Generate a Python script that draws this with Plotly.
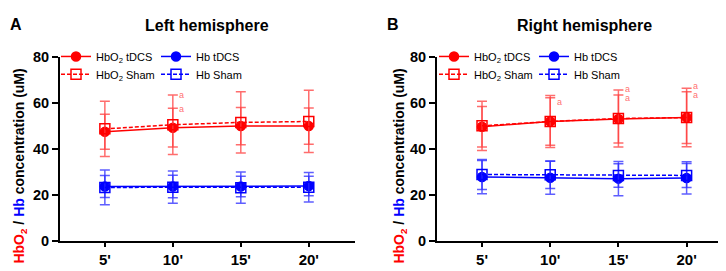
import plotly.graph_objects as go

categories = ["5'", "10'", "15'", "20'"]
xpos = [1, 2, 3, 4]

# Left hemisphere
L_hbo2_tdcs = [47.5, 49.3, 50.0, 50.0]
L_hbo2_tdcs_sd = [7.6, 8.4, 8.1, 7.9]
L_hbo2_sham = [48.8, 50.6, 51.6, 52.0]
L_hbo2_sham_sd = [12.0, 12.9, 13.3, 13.5]
L_hb_tdcs = [23.8, 23.8, 23.8, 24.0]
L_hb_tdcs_sd = [4.8, 4.9, 4.4, 4.2]
L_hb_sham = [23.4, 23.5, 23.3, 23.5]
L_hb_sham_sd = [7.5, 7.0, 6.8, 6.4]

# Right hemisphere
R_hbo2_tdcs = [49.7, 52.0, 53.1, 53.7]
R_hbo2_tdcs_sd = [8.8, 10.3, 10.4, 11.2]
R_hbo2_sham = [50.1, 52.0, 53.3, 53.7]
R_hbo2_sham_sd = [10.7, 11.3, 12.4, 12.7]
R_hb_tdcs = [27.9, 27.6, 27.2, 27.5]
R_hb_tdcs_sd = [7.2, 7.2, 7.4, 7.0]
R_hb_sham = [29.0, 28.9, 28.6, 28.6]
R_hb_sham_sd = [6.5, 6.0, 5.1, 5.2]

# significance marks "a": (category index, y value)
L_sig_x = [2, 2]
L_sig_y = [63.3, 57.4]
R_sig_x = [2, 3, 3, 4, 4]
R_sig_y = [60.6, 66.0, 62.0, 67.4, 63.6]

titles = ["Left hemisphere", "Right hemisphere"]
panel_letters = ["A", "B"]

RED = "#ff0000"
RED_ERR = "rgba(255,60,60,0.75)"
BLUE = "#0000ff"
BLUE_ERR = "rgba(40,40,255,0.75)"
FONT = "Arial, Liberation Sans, sans-serif"

fig = go.Figure()

def add_panel(xa, ya, data, legs):
    (ht, hts, hs, hss, bt, bts, bs, bss) = data
    specs = [
        ("HbO<sub>2</sub> tDCS", ht, hts, RED, RED_ERR, "circle", "solid", legs[0]),
        ("Hb tDCS", bt, bts, BLUE, BLUE_ERR, "circle", "solid", legs[0]),
        ("HbO<sub>2</sub> Sham", hs, hss, RED, RED_ERR, "square-open", "dash", legs[1]),
        ("Hb Sham", bs, bss, BLUE, BLUE_ERR, "square-open", "dash", legs[1]),
    ]
    for name, y, sd, col, ecol, sym, dash, leg in specs:
        fig.add_trace(go.Scatter(
            x=xpos, y=y, name=name, mode="lines+markers",
            xaxis=xa, yaxis=ya, legend=leg,
            line=dict(color=col, width=1.5, dash="4px,2px" if dash == "dash" else "solid"),
            marker=dict(symbol=sym, size=9 if sym == "circle" else 10, color=col,
                        line=dict(color=col, width=1.5)),
            error_y=dict(type="data", array=sd, visible=True, color=ecol,
                         thickness=1.5, width=5),
        ))

add_panel("x", "y", (L_hbo2_tdcs, L_hbo2_tdcs_sd, L_hbo2_sham, L_hbo2_sham_sd,
                     L_hb_tdcs, L_hb_tdcs_sd, L_hb_sham, L_hb_sham_sd), ["legend", "legend2"])
add_panel("x2", "y2", (R_hbo2_tdcs, R_hbo2_tdcs_sd, R_hbo2_sham, R_hbo2_sham_sd,
                       R_hb_tdcs, R_hb_tdcs_sd, R_hb_sham, R_hb_sham_sd), ["legend3", "legend4"])

annotations = []
for xs, ys, xr, yr in [(L_sig_x, L_sig_y, "x", "y"), (R_sig_x, R_sig_y, "x2", "y2")]:
    for xv, yv in zip(xs, ys):
        annotations.append(dict(x=xv, y=yv, xref=xr, yref=yr, text="a", showarrow=False,
                                xshift=9, font=dict(family=FONT, size=9, color=RED_ERR)))

W, H = 726, 271
title_x = [198.5 / W, 576.5 / W]
letter_x = [8 / W, 385 / W]
ytitle_x = [12 / W, 392 / W]
ytitle = ('<span style="color:#ff0000">HbO<sub>2</sub></span> / '
          '<span style="color:#0000ff">Hb</span> concentration (uM)')
for i in range(2):
    annotations.append(dict(x=title_x[i], y=1 - 10 / H, xref="paper", yref="paper",
                            text="<b>%s</b>" % titles[i], showarrow=False,
                            xanchor="center", yanchor="middle",
                            font=dict(family=FONT, size=16, color="black")))
    annotations.append(dict(x=letter_x[i], y=1 - 9 / H, xref="paper", yref="paper",
                            text="<b>%s</b>" % panel_letters[i], showarrow=False,
                            xanchor="center", yanchor="middle",
                            font=dict(family=FONT, size=16, color="black")))
    annotations.append(dict(x=ytitle_x[i], y=1 - 160 / H, xref="paper", yref="paper",
                            text="<b>%s</b>" % ytitle, showarrow=False, textangle=-90,
                            xanchor="center", yanchor="middle",
                            font=dict(family=FONT, size=14, color="black")))

xax = dict(range=[0.34, 4.68], tickvals=xpos, ticktext=categories, showgrid=False,
           zeroline=False, showline=True, linecolor="black", linewidth=2,
           ticks="outside", ticklen=4, tickwidth=1.5, tickcolor="black",
           tickfont=dict(family=FONT, size=15, color="black", weight="bold"),
           fixedrange=True)
yax = dict(range=[0, 80], tickvals=[0, 20, 40, 60, 80], showgrid=False, zeroline=False,
           showline=True, linecolor="black", linewidth=2, ticks="outside", ticklen=6,
           tickwidth=2, tickcolor="black",
           tickfont=dict(family=FONT, size=14.5, color="black", weight="bold"))

ydom = [1 - 239.5 / H, 1 - 43.5 / H]
legfont = dict(family=FONT, size=11, color="black")
leg_common = dict(orientation="h", font=legfont, bgcolor="rgba(0,0,0,0)",
                  entrywidth=55, entrywidthmode="pixels", xanchor="left",
                  yanchor="middle", itemclick=False, tracegroupgap=0)

fig.update_layout(
    width=W, height=H, margin=dict(l=0, r=0, t=0, b=0),
    paper_bgcolor="white", plot_bgcolor="white",
    font=dict(family=FONT),
    xaxis=dict(domain=[52 / W, 347 / W], anchor="y", **xax),
    yaxis=dict(domain=ydom, anchor="x", **yax),
    xaxis2=dict(domain=[429 / W, 725 / W], anchor="y2", **xax),
    yaxis2=dict(domain=ydom, anchor="x2", **yax),
    legend=dict(x=48 / W, y=1 - 43 / H, **leg_common),
    legend2=dict(x=48 / W, y=1 - 62 / H, **leg_common),
    legend3=dict(x=426 / W, y=1 - 43 / H, **leg_common),
    legend4=dict(x=426 / W, y=1 - 62 / H, **leg_common),
    annotations=annotations,
    showlegend=True,
)

fig.write_html("out.html")
